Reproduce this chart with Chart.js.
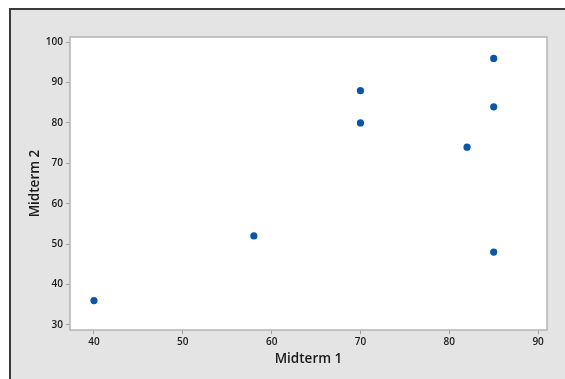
<!DOCTYPE html>
<html>
<head>
<meta charset="utf-8">
<script src="https://cdn.jsdelivr.net/npm/chart.js@4/dist/chart.umd.min.js"></script>
<style>
  html, body { margin: 0; padding: 0; background: #ffffff; }
  #frame { position: absolute; left: 9px; top: 8px; width: 600px; height: 400px;
           background: #e4e4e4; border-top: 2px solid #3a3a3a; border-left: 2px solid #3a3a3a; }
  #c { position: absolute; left: 0; top: 0; }
</style>
</head>
<body>
<div id="frame"></div>
<canvas id="c" width="565" height="379"></canvas>
<script>
const midterm1 = [40, 58, 70, 70, 82, 85, 85, 85];
const midterm2 = [36, 52, 88, 80, 74, 96, 84, 48];
const xTicks = [40, 50, 60, 70, 80, 90];
const yTicks = [30, 40, 50, 60, 70, 80, 90, 100];
const xTitle = 'Midterm 1';
const yTitle = 'Midterm 2';

const points = midterm1.map((x, i) => ({ x: x, y: midterm2[i] }));

const plotFrame = {
  id: 'plotFrame',
  beforeDraw(chart) {
    const { ctx, chartArea: a } = chart;
    ctx.save();
    ctx.fillStyle = '#ffffff';
    ctx.fillRect(a.left, a.top, a.right - a.left, a.bottom - a.top);
    ctx.restore();
  },
  afterDatasetsDraw(chart) {
    const { ctx, chartArea: a } = chart;
    ctx.save();
    ctx.strokeStyle = '#b4b4b4';
    ctx.lineWidth = 1.5;
    ctx.strokeRect(a.left, a.top, a.right - a.left, a.bottom - a.top);
    ctx.restore();
  }
};

const tickFont = { family: '"Open Sans", sans-serif', size: 10, weight: '600' };
const titleFont = { family: '"Open Sans", sans-serif', size: 13.5, weight: '600' };

new Chart(document.getElementById('c'), {
  type: 'scatter',
  data: {
    datasets: [{
      data: points,
      backgroundColor: '#0a56a8',
      borderColor: '#0a56a8',
      pointRadius: 3.6,
      pointHoverRadius: 3.6,
      borderWidth: 0
    }]
  },
  options: {
    responsive: false,
    animation: false,
    events: [],
    layout: { padding: { left: 0, top: 37, right: 18, bottom: 0 } },
    plugins: { legend: { display: false }, tooltip: { enabled: false } },
    scales: {
      x: {
        type: 'linear',
        min: 37.3,
        max: 91.0,
        afterBuildTicks: s => { s.ticks = xTicks.map(v => ({ value: v })); },
        afterFit: s => { s.height = 49; },
        border: { display: false },
        grid: { drawOnChartArea: false, drawTicks: true, tickLength: 4, color: '#a0a0a0', lineWidth: 1 },
        ticks: { font: tickFont, color: '#1a1a1a', padding: 2, maxRotation: 0, autoSkip: false },
        title: { display: true, text: xTitle, font: titleFont, color: '#1a1a1a', padding: { top: 0, bottom: 12 } }
      },
      y: {
        type: 'linear',
        min: 28.7,
        max: 101.3,
        afterBuildTicks: s => { s.ticks = yTicks.map(v => ({ value: v })); },
        afterFit: s => { s.width = 70; },
        border: { display: false },
        grid: { drawOnChartArea: false, drawTicks: true, tickLength: 4, color: '#a0a0a0', lineWidth: 1 },
        ticks: { font: tickFont, color: '#1a1a1a', padding: 3, autoSkip: false },
        title: { display: true, text: yTitle, font: titleFont, color: '#1a1a1a', padding: { top: 27, bottom: 0 } }
      }
    }
  },
  plugins: [plotFrame]
});
</script>
</body>
</html>
